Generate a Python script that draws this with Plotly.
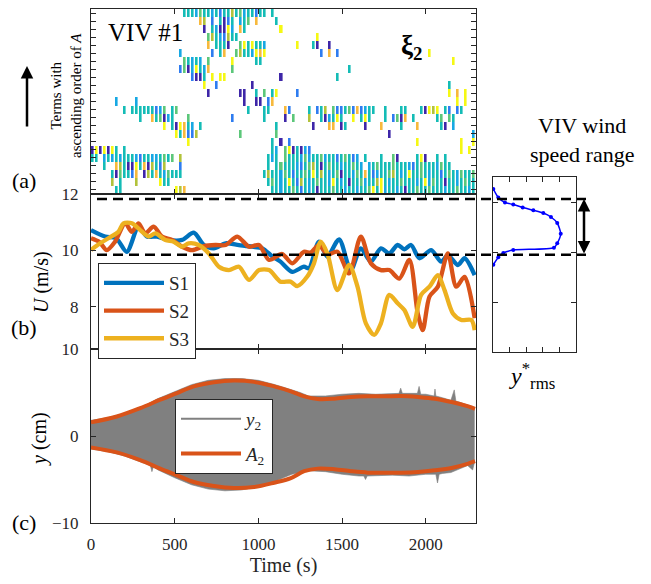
import plotly.graph_objects as go

W, H = 651, 584
def PX(x): return x / W
def PY(y): return 1 - y / H

FONT = "Liberation Serif"
AXC = "#262626"

# ---------------- Panel (a): term map (rows top->bottom, "col:pattern") ----------------
N_COLS = 96
T_END = 2300
COLOR_KEYS = "pbctgory"
TERM_COLORS = ["#3e26a8", "#2e7cf0", "#17a8e3", "#14bcb6", "#5cc77a", "#b2c23a", "#f7b93c", "#f5f814"]
term_rows = [
    "23:tttcgttctbttotgcttbtt 45:t",
    "27:ro.b.tpbt.ctg.r 46:t",
    "28:p.tcppyc.rt 47:y",
    "29:gotcbott 56:y",
    "29:r.tttp..gytyttc 51:y...tp..p",
    "22:c 30:b.tr..gottcyry 57:b.r.b 84:y",
    "23:gtctc.g.....y.....tt 90:y",
    "22:bgpcytcr.....g 64:t",
    "25:bppt.y.yy 47:p 61:t",
    "28:y..b........p 89:t",
    "29:p.......pp..t.g.ty 51:b 89:y.r.y",
    "6:c....c 38:p..pp.br 91:y.y",
    "8:t.ttttttbcg.tg 39:t...tt...rb....t.bto.gbbtgbrbctt..t...tt...tpyoy.tb.bt",
    "12:t..rtgpct 24:g 35:b 43:t....p.g...o..tpctyt..y.tyt...t.bgpr.t.....tg.gt",
    "18:y.tpyrtc.t 46:t 55:p...rr.pt....p...r....t...r.....tp.c",
    "21:ytrbbo 37:g 46:g 74:p 95:c",
    "24:y 45:t.p.b 81:y 92:y..y",
    "0:pypypyt.t 45:tc.gyptpcb 92:y.y",
    "0:tt.ctctctttcbttcctgtg.o 44:tct.gtttcgcttgcttbtgtbc.t...t..gp....typ..t.t",
    "3:t..rotppytrpotbo...b 44:t.tgtttcbtgotptgttcttgtc.ctgtttgtttcbtgtttcgtt",
    "5:tpgttbr.potrtcgttt 43:tottcgtbttgtytotctgpttcgtrtbcttgotctyttgtcttbtgtcgttg",
    "5:o.t...o.....ytt 44:tgtctytbotctgttcytctpttgcttoytcttgtttctycgttpttctgtt",
    "6:tt 21:yor 45:ttcttgtbtctptttgttcttcttgytycttctpttgttgtttcttgttctt",
]

# ---------------- Panel (b): wind speeds U (m/s) ----------------
S1_t = [0, 84, 150, 214, 284, 334, 394, 464, 544, 614, 674, 734, 804, 884, 964, 1024, 1084, 1132,
        1202, 1272, 1302, 1362, 1412, 1482, 1552, 1612, 1672, 1732, 1782, 1832, 1872, 1912, 1962,
        2032, 2092, 2132, 2192, 2232, 2292]
S1_u = [10.72, 10.49, 10.43, 9.95, 10.84, 10.49, 10.49, 10.37, 10.37, 10.63, 10.19, 10.07, 10.25,
        10.19, 10.13, 10.07, 9.78, 9.60, 9.24, 9.42, 9.36, 10.31, 9.78, 10.39, 9.30, 10.07, 9.60,
        10.07, 9.89, 10.19, 10.04, 10.19, 9.72, 10.01, 9.60, 9.83, 9.48, 9.72, 9.12]
S2_t = [0, 50, 94, 144, 204, 244, 284, 324, 374, 424, 484, 544, 604, 674, 744, 804, 874, 944, 1004,
        1064, 1142, 1202, 1272, 1312, 1362, 1412, 1472, 1542, 1612, 1672, 1732, 1782, 1842, 1902,
        1952, 1982, 2022, 2072, 2132, 2182, 2232, 2292]
S2_u = [10.43, 10.30, 10.01, 10.31, 10.96, 10.66, 10.96, 10.60, 10.84, 10.49, 10.37, 10.13, 10.01,
        10.15, 10.19, 10.19, 10.49, 10.13, 10.19, 9.66, 9.87, 9.54, 9.95, 9.92, 10.19, 9.85, 9.95,
        9.18, 10.49, 9.54, 9.30, 9.30, 9.00, 9.66, 7.76, 7.17, 8.36, 8.71, 9.89, 8.71, 9.06, 7.59]
S3_t = [0, 54, 104, 164, 194, 244, 294, 344, 384, 444, 494, 544, 584, 644, 704, 764, 824, 884, 944,
        1004, 1064, 1132, 1192, 1232, 1292, 1332, 1372, 1412, 1472, 1542, 1592, 1642, 1692, 1732,
        1782, 1832, 1872, 1922, 1972, 2022, 2072, 2112, 2162, 2212, 2272, 2292]
S3_u = [10.01, 10.25, 10.43, 10.66, 10.96, 10.96, 10.72, 10.49, 10.60, 10.37, 10.31, 10.13, 10.25,
        10.19, 9.89, 9.42, 9.30, 9.42, 8.95, 9.30, 9.30, 8.89, 8.89, 8.73, 9.07, 9.54, 10.31, 9.89,
        8.59, 9.48, 8.71, 7.41, 7.00, 7.41, 8.42, 8.12, 7.88, 7.29, 8.42, 8.71, 9.12, 8.59, 7.76,
        7.53, 7.53, 7.17]
VIV_RANGE = [11.82, 9.84]

# ---------------- Right inset: y*_rms vs wind speed ----------------
rms_x = [0.02, 0.32, 0.72, 1.22, 1.79, 2.43, 3.03, 3.49, 3.87, 4.08, 3.87, 3.67, 1.22, 0.62, 0.32, 0.02]
rms_u = [12.52, 12.18, 11.98, 11.90, 11.78, 11.67, 11.56, 11.40, 11.16, 10.73, 10.35, 10.17,
         10.08, 9.96, 9.79, 9.49]

# ---------------- Panel (c): displacement y2 and envelope A2 (cm) ----------------
y2_up_t = [0, 100, 200, 300, 400, 500, 600, 700, 800, 900, 1000, 1100, 1200, 1250, 1300, 1400, 1500,
           1600, 1700, 1800, 1840, 1850, 1860, 1900, 1950, 1960, 1970, 2000, 2050, 2055, 2060, 2100,
           2150, 2170, 2180, 2200, 2250, 2290]
y2_up = [1.8, 2.1, 2.6, 3.3, 4.3, 5.1, 5.9, 6.4, 6.6, 6.6, 6.4, 5.9, 5.3, 5.0, 4.6, 4.6, 4.8, 4.9,
         4.8, 4.9, 4.9, 5.5, 4.9, 4.9, 4.9, 5.7, 4.8, 4.8, 4.6, 5.4, 4.6, 4.4, 4.1, 5.3, 4.0, 3.9,
         3.6, 3.3]
y2_low_t = [0, 100, 200, 300, 355, 364, 373, 400, 500, 600, 700, 800, 900, 1000, 1100, 1200, 1300,
            1400, 1500, 1600, 1630, 1640, 1650, 1700, 1800, 1900, 2000, 2060, 2070, 2080, 2100, 2150,
            2200, 2250, 2280, 2290]
y2_low = [-1.5, -1.8, -2.3, -3.0, -3.4, -4.1, -3.5, -3.9, -4.8, -5.6, -6.1, -6.3, -6.2, -5.8, -5.2,
          -4.4, -4.0, -4.1, -4.4, -4.6, -4.6, -5.0, -4.6, -4.6, -4.5, -4.6, -4.4, -4.4, -5.4, -4.4,
          -4.3, -4.2, -3.8, -3.4, -3.9, -3.1]
A2_t = [0, 154, 294, 414, 514, 614, 734, 854, 974, 1094, 1194, 1274, 1354, 1454, 1554, 1654, 1754,
        1854, 1954, 2054, 2154, 2254, 2294]
A2_up = [1.58, 2.24, 3.20, 4.17, 4.94, 5.71, 6.18, 6.37, 6.22, 5.71, 5.14, 4.56, 4.25, 4.29, 4.48,
         4.56, 4.56, 4.59, 4.48, 4.29, 3.90, 3.40, 3.13]
A2_low = [-1.31, -1.89, -2.78, -3.75, -4.52, -5.29, -5.75, -5.98, -5.87, -5.37, -4.83, -4.05, -3.75,
          -3.82, -4.05, -4.21, -4.21, -4.21, -4.13, -3.94, -3.67, -3.17, -2.90]

X_TICKS = [0, 500, 1000, 1500, 2000]

# ---------------- build term matrix ----------------
z = []
for s in term_rows:
    line = [None] * N_COLS
    for tok in s.split():
        c0, pat = tok.split(":")
        c0 = int(c0)
        for k, ch in enumerate(pat):
            if ch != "." and c0 + k < N_COLS:
                line[c0 + k] = COLOR_KEYS.index(ch)
    z.append(line)
n = len(TERM_COLORS)
cscale = []
for i, c in enumerate(TERM_COLORS):
    cscale.append([i / n, c])
    cscale.append([(i + 1) / n, c])

fig = go.Figure()
dx = T_END / N_COLS
fig.add_trace(go.Heatmap(z=z, x0=dx / 2, dx=dx, y0=0, dy=1, colorscale=cscale,
                         zmin=-0.5, zmax=n - 0.5, showscale=False, xgap=1.4, ygap=0,
                         hoverongaps=False, xaxis="x", yaxis="y", showlegend=False))

# panel b lines
for name, t, u, col in [("S1", S1_t, S1_u, "#0072bd"), ("S2", S2_t, S2_u, "#d95319"),
                        ("S3", S3_t, S3_u, "#edb120")]:
    fig.add_trace(go.Scatter(x=t, y=u, name=name, mode="lines",
                             line=dict(color=col, width=4.3, shape="spline", smoothing=0.8),
                             xaxis="x2", yaxis="y2", legend="legend"))

# panel c
fig.add_trace(go.Scatter(x=y2_up_t + y2_low_t[::-1], y=y2_up + y2_low[::-1], mode="lines",
                         fill="toself", fillcolor="#808080", line=dict(color="#808080", width=0.6),
                         xaxis="x3", yaxis="y3", showlegend=False))
fig.add_trace(go.Scatter(x=[None], y=[None], mode="lines", name="<i>y</i><sub>2</sub>",
                         line=dict(color="#808080", width=2), xaxis="x3", yaxis="y3",
                         legend="legend2", legendgroup="g1"))
fig.add_trace(go.Scatter(x=A2_t, y=A2_up, mode="lines", name="<i>A</i><sub>2</sub>",
                         line=dict(color="#d95319", width=4, shape="spline"),
                         xaxis="x3", yaxis="y3", legend="legend2", legendgroup="g2"))
fig.add_trace(go.Scatter(x=A2_t, y=A2_low, mode="lines", showlegend=False,
                         line=dict(color="#d95319", width=4, shape="spline"),
                         xaxis="x3", yaxis="y3", legendgroup="g2"))

# inset
fig.add_trace(go.Scatter(x=rms_x, y=rms_u, mode="lines+markers", showlegend=False,
                         line=dict(color="#0000ff", width=1.5, shape="spline", smoothing=0.6),
                         marker=dict(color="#0000ff", size=4),
                         xaxis="x4", yaxis="y4"))

XD = [PX(91), PX(476)]
common_ax = dict(showline=True, linecolor=AXC, linewidth=1, mirror="ticks", ticks="inside",
                 tickcolor=AXC, ticklen=5, tickwidth=1, showgrid=False, zeroline=False,
                 automargin=False,
                 tickfont=dict(family=FONT, size=17, color=AXC))

fig.update_layout(
    width=W, height=H, margin=dict(l=0, r=0, t=0, b=0, autoexpand=False),
    paper_bgcolor="white", plot_bgcolor="white",
    font=dict(family=FONT, color="black"),
    xaxis=dict(domain=XD, range=[0, T_END], anchor="y", tickvals=X_TICKS, showticklabels=False,
               **common_ax),
    yaxis=dict(domain=[PY(194), PY(9)], range=[len(term_rows) - 0.5, -0.5], anchor="x",
               tickvals=list(range(len(term_rows))), showticklabels=False, **common_ax),
    xaxis2=dict(domain=XD, range=[0, T_END], anchor="y2", tickvals=X_TICKS, showticklabels=False,
                **common_ax),
    yaxis2=dict(domain=[PY(349), PY(194)], range=[6.5, 12], anchor="x2", tickvals=[8, 10, 12],
                ticklabelstandoff=8, **common_ax),
    xaxis3=dict(domain=XD, range=[0, T_END], anchor="y3", tickvals=X_TICKS,
                ticklabelstandoff=6,
                title=dict(text="Time (s)", font=dict(family=FONT, size=20, color=AXC), standoff=4),
                **common_ax),
    yaxis3=dict(domain=[PY(523), PY(349)], range=[-10, 10], anchor="x3", tickvals=[-10, 0, 10],
                ticklabelstandoff=8, **common_ax),
    xaxis4=dict(domain=[PX(493), PX(576)], range=[0, 5], anchor="y4", tickvals=[1, 2, 3, 4],
                showticklabels=False, **common_ax),
    yaxis4=dict(domain=[PY(352), PY(177)], range=[6, 13], anchor="x4", tickvals=[8, 10, 12],
                showticklabels=False, **common_ax),
    legend=dict(x=PX(98), y=PY(263), xanchor="left", yanchor="top", bgcolor="white",
                bordercolor=AXC, borderwidth=1, font=dict(family=FONT, size=19, color=AXC),
                itemwidth=60, tracegroupgap=0),
    legend2=dict(x=PX(175), y=PY(399), xanchor="left", yanchor="top", bgcolor="white",
                 bordercolor=AXC, borderwidth=1, font=dict(family=FONT, size=19, color=AXC),
                 itemwidth=60, tracegroupgap=7),
)

# dashed VIV range lines
for v in VIV_RANGE:
    fig.add_shape(type="line", xref="paper", yref="y2", x0=PX(97), x1=PX(586), y0=v, y1=v,
                  line=dict(color="black", width=2.5, dash="10px,6px"), layer="above")

ann = []
def txt(s, x, y, size, angle=0, **kw):
    ann.append(dict(text=s, xref="paper", yref="paper", x=PX(x), y=PY(y), showarrow=False,
                    xanchor="center", yanchor="middle", textangle=angle,
                    font=dict(family=FONT, size=size, color="black"), **kw))

txt("VIV #1", 145, 33, 25)
txt("<b>ξ<sub>2</sub></b>", 412, 47, 27)
txt("Terms with<br>ascending order of <i>A</i>", 66, 96, 15, angle=-90)
txt("(a)", 24, 180, 22)
txt("(b)", 24, 327, 22)
txt("(c)", 24, 522, 22)
txt("<i>U</i> (m/s)", 41, 282, 20, angle=-90)
txt("<i>y</i> (cm)", 39, 439, 20, angle=-90)
txt("VIV wind<br>speed range", 582, 140, 22)
txt("<i>y</i><sup>*</sup><sub>rms</sub>", 532, 376, 24)

# up arrow (left)
ann.append(dict(xref="paper", yref="paper", x=PX(27), y=PY(66), ax=0, ay=62, text="",
                showarrow=True, arrowhead=2, arrowsize=1, arrowwidth=2.5, arrowcolor="black"))
# double arrow (VIV range)
ann.append(dict(xref="paper", yref="y2", x=PX(584), y=VIV_RANGE[0], ax=0, ay=56, text="",
                showarrow=True, arrowhead=2, arrowsize=1, arrowwidth=2.5, arrowside="end+start",
                arrowcolor="black"))
fig.update_layout(annotations=ann)

POST = ("document.body.style.margin='0px';document.body.style.padding='0px';"
        "document.body.style.overflow='hidden';"
        "document.documentElement.style.overflow='hidden';"
        "var d=document.getElementById('{plot_id}');"
        "d.style.position='fixed';d.style.left='0px';d.style.top='0px';")
fig.write_html("out.html", config={"displayModeBar": False}, post_script=POST)
